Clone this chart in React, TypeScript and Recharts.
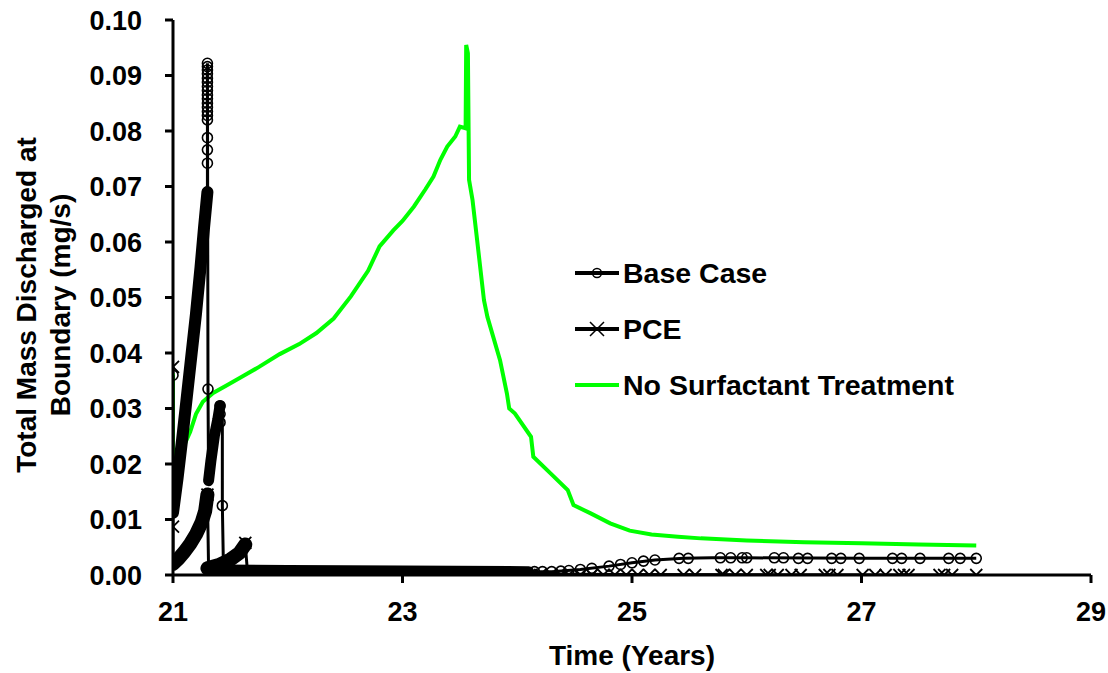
import { Legend, Line, LineChart, XAxis, YAxis } from 'recharts'

type Pt = [number, number]

const xTicks = [21, 23, 25, 27, 29]
const yTicks = [0, 0.01, 0.02, 0.03, 0.04, 0.05, 0.06, 0.07, 0.08, 0.09, 0.1]

// No Surfactant Treatment (green)
const noSurfactant: Pt[] = [
  [21.0, 0.0363], [21.0, 0.0195], [21.05, 0.0215], [21.1, 0.0235], [21.15, 0.0258],
  [21.2, 0.029], [21.26, 0.0312], [21.35, 0.0328], [21.47, 0.0342], [21.6, 0.0357],
  [21.75, 0.0375], [21.93, 0.0398], [22.1, 0.0416], [22.25, 0.0436], [22.4, 0.0462],
  [22.55, 0.0502], [22.7, 0.0548], [22.8, 0.0592], [22.92, 0.0621], [23.0, 0.0638],
  [23.1, 0.0664], [23.2, 0.0695], [23.27, 0.0718], [23.33, 0.0748], [23.39, 0.0772],
  [23.46, 0.079], [23.5, 0.0808], [23.55, 0.0805], [23.555, 0.0955], [23.57, 0.094],
  [23.58, 0.0712], [23.61, 0.0676], [23.65, 0.0604], [23.71, 0.0495], [23.74, 0.0465],
  [23.85, 0.0387], [23.91, 0.0327], [23.93, 0.03], [23.98, 0.0291], [24.12, 0.0249],
  [24.14, 0.0213], [24.29, 0.0183], [24.44, 0.0153], [24.49, 0.0126], [24.64, 0.0111],
  [24.81, 0.0093], [24.98, 0.008], [25.17, 0.0073], [25.4, 0.0069], [25.6, 0.0066],
  [26.0, 0.0062], [26.5, 0.0059], [27.0, 0.0057], [27.5, 0.0055], [28.0, 0.0053],
]

// Base Case: connecting line
const baseCaseLine: Pt[] = [
  [21.0, 0.036], [21.0, 0.0112], [21.04, 0.0175], [21.08, 0.0245], [21.12, 0.032],
  [21.16, 0.0395], [21.2, 0.047], [21.24, 0.0555], [21.27, 0.0625], [21.3, 0.069],
  [21.3, 0.0922], [21.305, 0.0335], [21.31, 0.017], [21.33, 0.0205], [21.36, 0.025],
  [21.39, 0.028], [21.41, 0.0305], [21.43, 0.03], [21.43, 0.0125], [21.44, 0.0009],
  [22.0, 0.0008], [23.0, 0.0007], [24.0, 0.0006], [24.3, 0.0006], [24.55, 0.001],
  [24.8, 0.0016], [25.0, 0.0022], [25.2, 0.0027], [25.45, 0.003], [25.7, 0.0031],
  [26.0, 0.0031], [27.0, 0.003], [28.0, 0.003],
]

// Base Case: stretches where the markers pile up into a solid band
const baseDenseRise: Pt[] = [
  [21.0, 0.0112], [21.04, 0.0175], [21.08, 0.0245], [21.12, 0.032], [21.16, 0.0395],
  [21.2, 0.047], [21.24, 0.0555], [21.27, 0.0625], [21.3, 0.069],
]
const baseDenseSecond: Pt[] = [
  [21.31, 0.017], [21.33, 0.0205], [21.36, 0.025], [21.39, 0.028], [21.41, 0.0305],
]
const baseDenseFloor: Pt[] = [[21.44, 0.0009], [22.0, 0.0008], [23.0, 0.0007], [24.1, 0.0006]]

// Base Case: visible individual markers
const baseMarkers: Pt[] = [
  [21.0, 0.036], [21.3, 0.0742], [21.3, 0.0766], [21.3, 0.0788], [21.3, 0.082],
  [21.3, 0.0828], [21.3, 0.0835], [21.3, 0.0843], [21.3, 0.085], [21.3, 0.0858],
  [21.3, 0.0865], [21.3, 0.0873], [21.3, 0.088], [21.3, 0.0888], [21.3, 0.0895],
  [21.3, 0.0903], [21.3, 0.091], [21.3, 0.0916], [21.3, 0.0922], [21.305, 0.0335],
  [21.41, 0.0305], [21.41, 0.029], [21.41, 0.0275], [21.43, 0.0125],
  [24.15, 0.0006], [24.22, 0.0006], [24.3, 0.0006], [24.38, 0.0007], [24.45, 0.0008],
  [24.55, 0.001], [24.65, 0.0012], [24.8, 0.0016], [24.9, 0.0019], [25.0, 0.0022],
  [25.1, 0.0025], [25.2, 0.0027], [25.41, 0.003], [25.49, 0.003], [25.77, 0.0031],
  [25.86, 0.0031], [25.96, 0.0031], [26.0, 0.0031], [26.24, 0.0031], [26.32, 0.0031],
  [26.45, 0.003], [26.53, 0.003], [26.74, 0.003], [26.82, 0.003], [26.98, 0.003],
  [27.27, 0.003], [27.35, 0.003], [27.51, 0.003], [27.76, 0.003], [27.86, 0.003],
  [28.0, 0.003],
]

// PCE: connecting line
const pceLine: Pt[] = [
  [21.0, 0.0375], [21.0, 0.0087], [21.0, 0.002], [21.05, 0.003], [21.1, 0.0042],
  [21.15, 0.0056], [21.2, 0.0073], [21.25, 0.0095], [21.28, 0.0115], [21.3, 0.0145],
  [21.31, 0.0012], [21.4, 0.0018], [21.5, 0.0028], [21.58, 0.004], [21.63, 0.0055],
  [21.65, 0.0003], [24.0, 0.0002], [25.0, 0.0001], [28.0, 0.0],
]

const pceDenseRise: Pt[] = [
  [21.0, 0.002], [21.05, 0.003], [21.1, 0.0042], [21.15, 0.0056], [21.2, 0.0073],
  [21.25, 0.0095], [21.28, 0.0115], [21.3, 0.0145],
]
const pceDenseSecond: Pt[] = [
  [21.3, 0.0012], [21.4, 0.0018], [21.5, 0.0028], [21.58, 0.004], [21.63, 0.0055],
]
const pceDenseFloor: Pt[] = [[21.4, 0.0001], [22.5, 0.0001], [23.7, 0.0001]]

const pceMarkers: Pt[] = [
  [21.0, 0.0375], [21.0, 0.0087], [21.3, 0.0145], [21.63, 0.0058],
  [23.75, 0.0], [23.82, 0.0], [23.9, 0.0], [23.97, 0.0], [24.05, 0.0], [24.12, 0.0],
  [24.2, 0.0], [24.3, 0.0], [24.38, 0.0], [24.45, 0.0], [24.55, 0.0], [24.65, 0.0],
  [24.75, 0.0], [24.85, 0.0], [24.95, 0.0], [25.05, 0.0], [25.15, 0.0], [25.25, 0.0],
  [25.45, 0.0], [25.55, 0.0], [25.78, 0.0], [25.8, 0.0], [25.9, 0.0], [26.0, 0.0],
  [26.17, 0.0], [26.2, 0.0], [26.27, 0.0], [26.39, 0.0], [26.47, 0.0], [26.68, 0.0],
  [26.72, 0.0], [26.79, 0.0], [27.01, 0.0], [27.12, 0.0], [27.21, 0.0], [27.33, 0.0],
  [27.37, 0.0], [27.41, 0.0], [27.68, 0.0], [27.72, 0.0], [27.79, 0.0], [28.0, 0.0],
]

const toRows = (pts: Pt[]) => pts.map(([t, v]) => ({ t, v }))

const FONT = '"Liberation Sans", Arial, sans-serif'
const GREEN = '#00ff00'
const TITLE_SIZE = 28

function XMark(props: any) {
  const { cx, cy, index } = props
  if (cx == null || cy == null) return <g key={`x-${index}`} />
  const s = 6
  return (
    <path
      key={`x-${index}`}
      d={`M${cx - s},${cy - s}L${cx + s},${cy + s}M${cx - s},${cy + s}L${cx + s},${cy - s}`}
      stroke="#000"
      strokeWidth={1.8}
      fill="none"
    />
  )
}

const circleDot = { r: 5, stroke: '#000', strokeWidth: 1.6, fill: 'none' }

function YTitle() {
  const style = { fontFamily: FONT, fontWeight: 700, fontSize: TITLE_SIZE, fill: '#000' }
  return (
    <g>
      <text transform="translate(36,305) rotate(-90)" textAnchor="middle" {...style}>
        Total Mass Discharged at
      </text>
      <text transform="translate(70,305) rotate(-90)" textAnchor="middle" {...style}>
        Boundary (mg/s)
      </text>
    </g>
  )
}

function XTitle() {
  return (
    <text x={632} y={665} textAnchor="middle" fontFamily={FONT} fontWeight={700} fontSize={TITLE_SIZE} fill="#000">
      Time (Years)
    </text>
  )
}

function LegendBox() {
  const rows = [
    { label: 'Base Case', color: '#000', mark: 'circle' },
    { label: 'PCE', color: '#000', mark: 'x' },
    { label: 'No Surfactant Treatment', color: GREEN, mark: 'none' },
  ]
  return (
    <div style={{ fontFamily: FONT, fontWeight: 700, fontSize: 28.5, color: '#000' }}>
      {rows.map((r) => (
        <div key={r.label} style={{ display: 'flex', alignItems: 'center', height: 56 }}>
          <svg width={50} height={20} style={{ display: 'block' }}>
            <line x1={2} y1={10} x2={46} y2={10} stroke={r.color} strokeWidth={4} />
            {r.mark === 'circle' && <circle cx={24} cy={10} r={4.5} stroke="#000" strokeWidth={1.5} fill="none" />}
            {r.mark === 'x' && (
              <path d="M17,3L31,17M17,17L31,3" stroke="#000" strokeWidth={1.5} fill="none" />
            )}
          </svg>
          <span style={{ whiteSpace: 'nowrap' }}>{r.label}</span>
        </div>
      ))}
    </div>
  )
}

export default function App() {
  const tick = { fill: '#000', fontSize: 27, fontWeight: 700, fontFamily: FONT }
  const axisLine = { stroke: '#000', strokeWidth: 3 }
  const band = (pts: Pt[], key: string, width: number) => (
    <Line
      key={key}
      data={toRows(pts)}
      dataKey="v"
      type="linear"
      stroke="#000"
      strokeWidth={width}
      strokeLinecap="round"
      strokeLinejoin="round"
      dot={false}
      activeDot={false}
      legendType="none"
      isAnimationActive={false}
    />
  )

  return (
    <div style={{ position: 'absolute', left: 0, top: 0, background: '#fff' }}>
      <LineChart width={1108} height={673} margin={{ top: 20, right: 17, bottom: 0, left: 0 }}>
        <XAxis
          dataKey="t"
          type="number"
          domain={[21, 29]}
          ticks={xTicks}
          allowDataOverflow
          height={98}
          tick={tick}
          tickSize={8}
          tickMargin={19}
          axisLine={axisLine}
          tickLine={axisLine}
          label={{ content: XTitle }}
        />
        <YAxis
          type="number"
          domain={[0, 0.1]}
          ticks={yTicks}
          allowDataOverflow
          width={173}
          tick={tick}
          tickSize={8}
          tickMargin={23}
          tickFormatter={(v: number) => v.toFixed(2)}
          axisLine={axisLine}
          tickLine={axisLine}
          label={{ content: YTitle }}
        />
        <Legend
          layout="vertical"
          align="center"
          verticalAlign="middle"
          content={LegendBox}
          wrapperStyle={{ position: 'absolute', left: 573, top: 245, width: 480 }}
        />

        {band(pceDenseFloor, 'pce-floor', 14)}
        {band(baseDenseFloor, 'base-floor', 11)}
        {band(pceDenseRise, 'pce-rise', 14)}
        {band(pceDenseSecond, 'pce-second', 14)}
        <Line
          data={toRows(pceLine)}
          dataKey="v"
          name="PCE"
          type="linear"
          stroke="#000"
          strokeWidth={3}
          dot={false}
          activeDot={false}
          isAnimationActive={false}
        />
        <Line
          data={toRows(pceMarkers)}
          dataKey="v"
          type="linear"
          stroke="none"
          dot={XMark}
          activeDot={false}
          legendType="none"
          isAnimationActive={false}
        />

        <Line
          data={toRows(noSurfactant)}
          dataKey="v"
          name="No Surfactant Treatment"
          type="linear"
          stroke={GREEN}
          strokeWidth={4}
          dot={false}
          activeDot={false}
          isAnimationActive={false}
        />

        {band(baseDenseRise, 'base-rise', 12)}
        {band(baseDenseSecond, 'base-second', 11)}
        <Line
          data={toRows(baseCaseLine)}
          dataKey="v"
          name="Base Case"
          type="linear"
          stroke="#000"
          strokeWidth={3}
          dot={false}
          activeDot={false}
          isAnimationActive={false}
        />
        <Line
          data={toRows(baseMarkers)}
          dataKey="v"
          type="linear"
          stroke="none"
          dot={circleDot}
          activeDot={false}
          legendType="none"
          isAnimationActive={false}
        />
      </LineChart>
    </div>
  )
}
